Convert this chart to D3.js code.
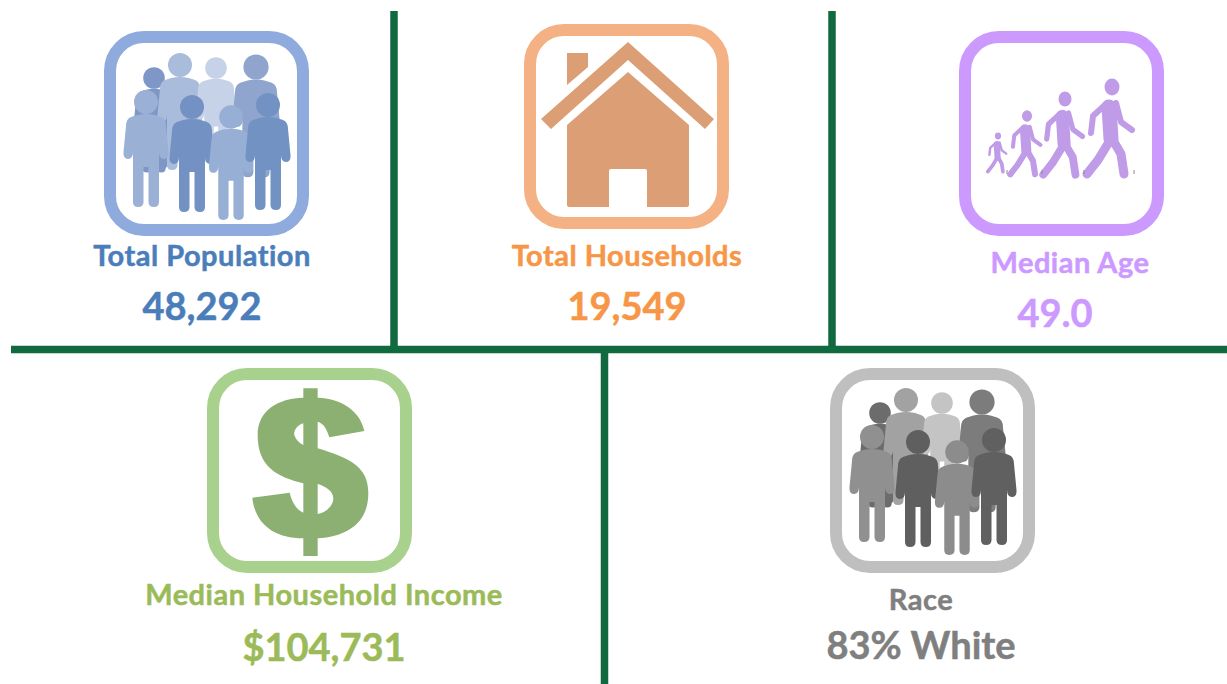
<!DOCTYPE html>
<html>
<head>
<meta charset="utf-8">
<script src="https://cdn.jsdelivr.net/npm/d3@7"></script>
<style>
html, body { margin: 0; padding: 0; background: #fff; overflow: hidden; }
svg { display: block; }
text { font-family: Lato, "Open Sans", sans-serif; font-weight: 700; text-anchor: middle; font-variant-ligatures: none; stroke-width: .5; paint-order: stroke; }
</style>
</head>
<body>
<div id="chart"></div>
<script>
// the five stats
const labels = ["Total Population", "Total Households", "Median Age", "Median Household Income", "Race"];
const values = ["48,292", "19,549", "49.0", "$104,731", "83% White"];
const icons = ["people", "house", "walkers", "dollar", "people"];

const frameColors = ["#8faadc", "#f4b183", "#cc99ff", "#a9d18e", "#bfbfbf"];
const textColors = ["#4a7ebb", "#f79646", "#cc99ff", "#9bbb59", "#7f7f7f"];
const frameX = [104, 524, 959, 207, 830];
const frameY = [31, 24, 31, 368, 368];
const labelX = [202, 627, 1070, 324, 921];
const labelY = [266, 266, 273, 605, 610];
const valueX = [202, 627, 1055, 324, 921];
const valueY = [319.5, 319.5, 327, 660.5, 659];
const labelSize = [29, 29, 29, 29, 29];
const valueSize = [38, 38, 38, 38, 38];

// figures in the crowd icon: head x, head y, scale, tone index
const crowdX = [154, 180, 216, 256, 146, 192, 231, 268];
const crowdY = [78, 65, 68, 67, 102, 107, 117, 105];
const crowdScale = [.9, 1, .9, 1.05, 1, 1, .98, 1];
const blueTones = ["#7f97c6", "#a9bcdc", "#c5d2e7", "#8fa5cd", "#9bb0d5", "#7392c3", "#97afd4", "#7292c3"];
const grayTones = ["#6c6c6c", "#a2a2a2", "#c4c4c4", "#7c7c7c", "#909090", "#5f5f5f", "#8c8c8c", "#606060"];

// walking figures, small to big
const walkerX = [998, 1027, 1065, 1112];
const walkerY = [136, 116, 99, 87];
const walkerScale = [.41, .67, .87, 1];
const specksX = [1007, 1042, 1084, 1134];

const personPath = "M-9 13Q0 11 9 13L15 15Q20 17 20 24L22.5 50Q23 57 18 57Q13 57 13 50L13 100Q13 105 8 105Q2.5 105 2.5 100L2.5 65L-2.5 65L-2.5 100Q-2.5 105 -8 105Q-13 105 -13 100L-13 50Q-13 57 -18 57Q-23 57 -22.5 50L-20 24Q-20 17 -15 15Z";
const housePath = "M567 125L628 72L689 125L689 205Q689 207 687 207L647 207L647 171Q647 169 645 169L611 169Q609 169 609 171L609 207L569 207Q567 207 567 205Z"
	+ "M628 42L714 119L705 129L628 60L551 129L541 119Z"
	+ "M567 53L588 53L588 67L567 85Z";
const dollarPath = "M340 113L340 85L383 85L383 113C450 115 510 150 523 213L418 232C410 205 400 190 383 185L383 265C480 295 535 320 535 400C535 490 470 530 383 535L383 588L340 588L340 535C250 535 195 490 187 413L299 398C305 425 320 450 340 458L340 370C260 350 203 320 203 225C203 150 265 115 340 113Z"
	+ "M340 190C320 195 310 215 313 225C318 240 330 250 340 255Z"
	+ "M383 372C410 380 430 395 430 415C430 440 405 458 383 462Z";

const svg = d3.select("#chart").append("svg")
	.attr("width", 1227)
	.attr("height", 684);

// divider lines
const lineColor = "#116a3f";
const dividers = [[394, 11, 394, 349], [832, 11, 832, 349], [11, 349.5, 1227, 349.5], [604.5, 349, 604.5, 684]];
svg.selectAll("line.divider")
	.data(dividers)
	.enter()
	.append("line")
		.attr("class", "divider")
		.attr("x1", d => d[0])
		.attr("y1", d => d[1])
		.attr("x2", d => d[2])
		.attr("y2", d => d[3])
		.attr("stroke", lineColor)
		.attr("stroke-width", 7.5);

function drawCrowd(g, tones, dx, dy) {
	crowdX.forEach(function(x, i) {
		const p = g.append("g")
			.attr("transform", "translate(" + (x + dx) + "," + (crowdY[i] + dy) + ") scale(" + crowdScale[i] + ")")
			.attr("fill", tones[i]);
		p.append("circle").attr("r", 12);
		p.append("path").attr("d", personPath);
		// the arm of the back figure hangs lower than the front one's
		if (i == 0) {
			p.append("path")
				.attr("d", "M10 50L10 96")
				.attr("stroke", tones[i])
				.attr("stroke-width", 10)
				.attr("stroke-linecap", "round");
		}
	});
}

function drawWalkers(g) {
	walkerX.forEach(function(x, i) {
		const p = g.append("g")
			.attr("transform", "translate(" + x + "," + walkerY[i] + ") scale(" + walkerScale[i] + ")")
			.attr("fill", "none")
			.attr("stroke", "#bf9be8")
			.attr("stroke-linecap", "round")
			.attr("stroke-linejoin", "round");
		p.append("ellipse").attr("rx", 7.5).attr("ry", 8.5).attr("fill", "#bf9be8").attr("stroke", "none");
		p.append("path").attr("d", "M-3 20L-1 52").attr("stroke-width", 15);
		p.append("path").attr("d", "M-5 16L-19 29L-21 46M4 16L9 35L20 43").attr("stroke-width", 6);
		p.append("path").attr("d", "M-3 55L-14 73L-25 87M2 55L9 67L12 87").attr("stroke-width", 9);
	});
	g.selectAll("line.speck")
		.data(specksX)
		.enter()
		.append("line")
			.attr("class", "speck")
			.attr("x1", d => d)
			.attr("x2", d => d)
			.attr("y1", 170)
			.attr("y2", 174)
			.attr("stroke", "#8a8a8a");
}

labels.forEach(function(label, i) {
	// rounded frame
	svg.append("rect")
		.attr("x", frameX[i] + 6)
		.attr("y", frameY[i] + 6)
		.attr("width", 193)
		.attr("height", 193)
		.attr("rx", 34)
		.attr("fill", "#fff")
		.attr("stroke", frameColors[i])
		.attr("stroke-width", 12);

	const g = svg.append("g");
	if (icons[i] == "people") {
		// the race crowd is the population crowd moved over
		drawCrowd(g, i == 0 ? blueTones : grayTones, frameX[i] - frameX[0], i == 0 ? 0 : 335);
	} else if (icons[i] == "house") {
		g.append("path").attr("d", housePath).attr("fill", "#dc9f75");
	} else if (icons[i] == "walkers") {
		drawWalkers(g);
	} else if (icons[i] == "dollar") {
		g.attr("transform", "translate(190,360) scale(" + (1 / 3) + ")")
			.append("path")
				.attr("d", dollarPath)
				.attr("fill", "#8bb072")
				.attr("fill-rule", "evenodd");
	}

	svg.append("text")
		.attr("x", labelX[i])
		.attr("y", labelY[i])
		.attr("font-size", labelSize[i])
		.attr("letter-spacing", .5)
		.attr("fill", textColors[i])
		.attr("stroke", textColors[i])
		.text(label);

	svg.append("text")
		.attr("x", valueX[i])
		.attr("y", valueY[i])
		.attr("font-size", valueSize[i])
		.attr("fill", textColors[i])
		.attr("stroke", textColors[i])
		.text(values[i]);
});
</script>
</body>
</html>
